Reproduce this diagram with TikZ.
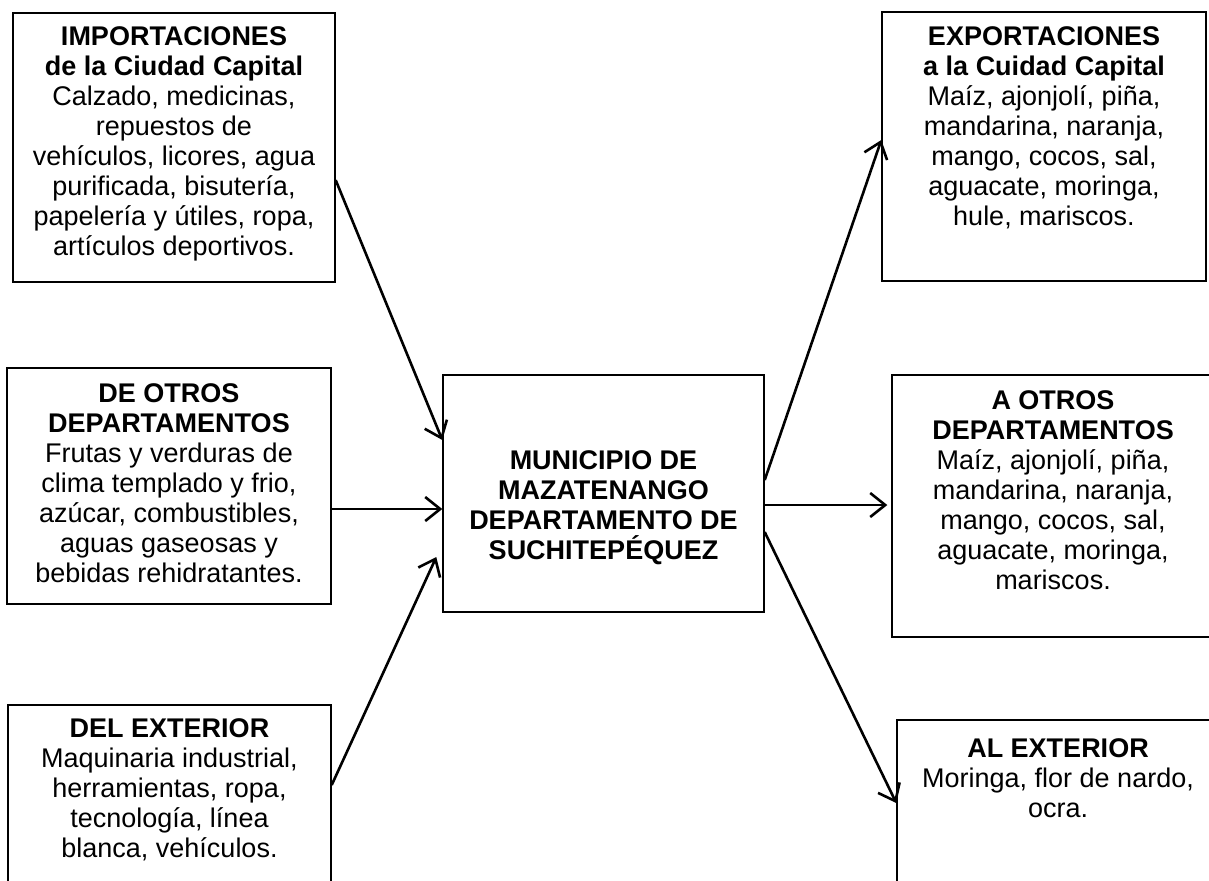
\documentclass[tikz,border=0pt]{standalone}
\usepackage{fontspec}
\setmainfont{Liberation Sans}
\usetikzlibrary{arrows.meta}

\tikzset{
  caja/.style={draw, line width=0.7pt, inner sep=0pt,
    font=\fontsize{13.5}{15}\selectfont},
  flecha/.style={-{Straight Barb[length=7.5pt,width=12pt]}, line width=1.3pt},
}

\begin{document}
\begin{tikzpicture}[x=0.5pt,y=-0.5pt]

      \useasboundingbox (0,0) rectangle (1209,880);

      % entradas
      \node[caja] (imp) at (174,147.5) {\parbox[c][134.5pt][t]{161pt}{\centering\vspace*{7pt}%
        \textbf{IMPORTACIONES}\\ \textbf{de la Ciudad Capital}\\
        Calzado, medicinas,\\ repuestos de\\ vehículos, licores, agua\\
        purificada, bisutería,\\ papelería y útiles, ropa,\\ artículos deportivos.}};
      \node[caja] (otros) at (169,486) {\parbox[c][118pt][t]{162pt}{\centering\vspace*{8pt}%
        \textbf{DE OTROS}\\ \textbf{DEPARTAMENTOS}\\
        Frutas y verduras de\\ clima templado y frio,\\ azúcar, combustibles,\\
        aguas gaseosas y\\ bebidas rehidratantes.}};
      \node[caja] (ext) at (169.5,800) {\parbox[c][95pt][t]{161.5pt}{\centering\vspace*{7pt}%
        \textbf{DEL EXTERIOR}\\
        Maquinaria industrial,\\ herramientas, ropa,\\ tecnología, línea\\ blanca, vehículos.}};

      % municipio
      \node[caja] (centro) at (603.5,493.5) {\parbox[c][118.5pt][t]{160.5pt}{\centering\vspace*{38pt}%
        \bfseries MUNICIPIO DE\\ MAZATENANGO\\ DEPARTAMENTO DE\\ SUCHITEPÉQUEZ}};

      % salidas
      \node[caja] (exp) at (1044,146.5) {\parbox[c][134.5pt][t]{162pt}{\centering\vspace*{7.5pt}%
        \textbf{EXPORTACIONES}\\ \textbf{a la Cuidad Capital}\\
        Maíz, ajonjolí, piña,\\ mandarina, naranja,\\ mango, cocos, sal,\\
        aguacate, moringa,\\ hule, mariscos.}};
      \node[caja] (aotros) at (1053,506) {\parbox[c][131pt][t]{161pt}{\centering\vspace*{8pt}%
        \textbf{A OTROS}\\ \textbf{DEPARTAMENTOS}\\
        Maíz, ajonjolí, piña,\\ mandarina, naranja,\\ mango, cocos, sal,\\
        aguacate, moringa,\\ mariscos.}};
      \node[caja] (alext) at (1058,810) {\parbox[c][90pt][t]{161pt}{\centering\vspace*{9.5pt}%
        \textbf{AL EXTERIOR}\\
        Moringa, flor de nardo,\\ ocra.}};

      \draw[flecha] ([yshift=-16.3pt]imp.east) -- ([yshift=26.75pt]centro.west);
      \draw[flecha] ([yshift=-11.5pt]otros.east) -- ([yshift=-11.5pt]otros.east -| centro.west);
      \draw[flecha] ([yshift=7.5pt]ext.east) -- ([yshift=-31.75pt,xshift=-3pt]centro.west);

      \draw[flecha] ([yshift=6.75pt]centro.east) -- ([yshift=3.25pt]exp.west);
      \draw[flecha] ([yshift=-5.75pt]centro.east) -- ([yshift=-5.75pt,xshift=-2pt]centro.east -| aotros.west);
      \draw[flecha] ([yshift=-19.25pt]centro.east) -- ([yshift=3.5pt]alext.west);

\end{tikzpicture}
\end{document}
